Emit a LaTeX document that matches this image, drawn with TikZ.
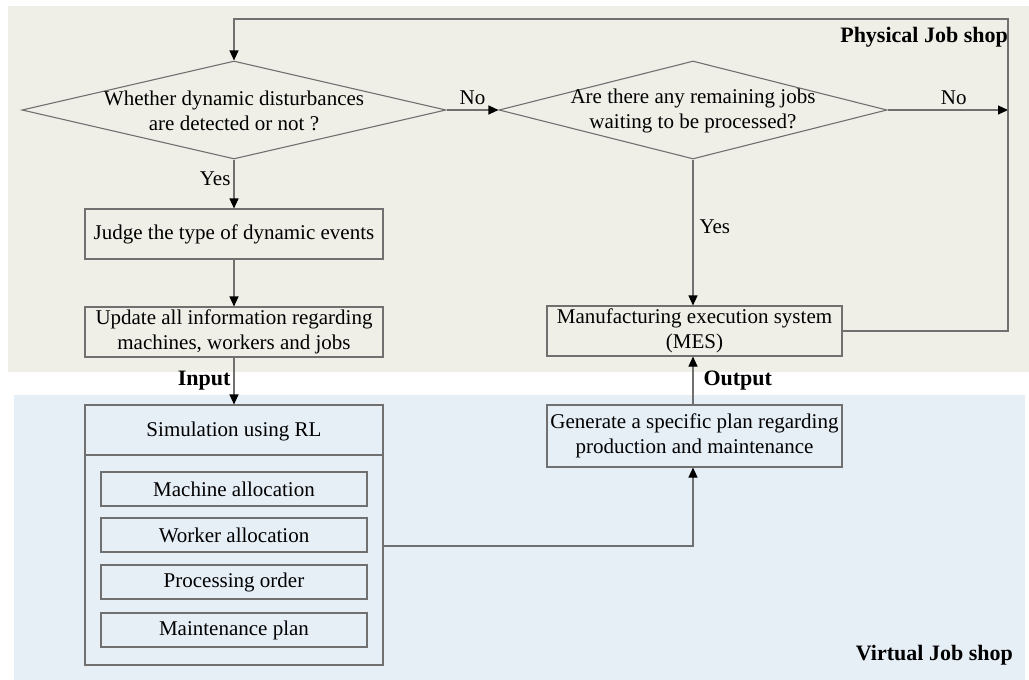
\documentclass[tikz,border=0pt]{standalone}
\usepackage{fontspec}
\setmainfont{Liberation Serif}
\usetikzlibrary{shapes.geometric,arrows.meta}
\definecolor{physbg}{HTML}{EFEFE8}
\definecolor{virtbg}{HTML}{E6EEF6}
\definecolor{ln}{HTML}{707070}
\tikzset{
  boxnode/.style={draw=ln, line width=1.1pt, rectangle, inner sep=0pt, align=center, font=\fontsize{21}{25}\selectfont},
  dia/.style={draw=ln, line width=1.1pt, diamond, inner sep=0pt},
  txt/.style={align=center, inner sep=0pt, font=\fontsize{21}{25}\selectfont},
  lbl/.style={inner sep=0pt, font=\fontsize{21}{25}\selectfont},
  blbl/.style={inner sep=0pt, font=\fontsize{22}{26}\selectfont\bfseries},
  conn/.style={draw=ln, line width=1.1pt},
  arr/.style={conn, -{Triangle[length=10pt,width=9pt,fill=black,color=black]}},
}
\begin{document}
\begin{tikzpicture}[x=1pt,y=-1pt]
\useasboundingbox (0,0) rectangle (1029,680);
\fill[white] (0,0) rectangle (1029,680);
% backgrounds
\fill[physbg] (8,6) rectangle (1029,372);
\fill[virtbg] (14,395) rectangle (1025,680);
\node[blbl, anchor=east] (phys) at (1008,37) {Physical Job shop};
\node[blbl, anchor=east] (virt) at (1013,655) {Virtual Job shop};

% diamonds
\node[dia, minimum width=424pt, minimum height=98pt] (d1) at (234,110) {};
\node[txt] (d1t) at (234,111) {Whether dynamic disturbances\\are detected or not ?};
\node[dia, minimum width=388pt, minimum height=98pt] (d2) at (693,110) {};
\node[txt] (d2t) at (693,111) {Are there any remaining jobs\\waiting to be processed?};

% left column
\node[boxnode, minimum width=298pt, minimum height=50pt] (judge) at (234,234) {Judge the type of dynamic events};
\node[boxnode, minimum width=298pt, minimum height=50pt] (upd) at (234,332) {Update all information regarding\\machines, workers and jobs};

% simulation box
\node[boxnode, minimum width=298pt, minimum height=260pt] (sim) at (234,535) {};
\coordinate (sepL) at (85,455);
\coordinate (sepR) at (383,455);
\draw[conn] (sepL) -- (sepR);
\node[txt] (simt) at (234,431) {Simulation using RL};
\node[boxnode, minimum width=266pt, minimum height=34pt] (m1) at (234,489) {Machine allocation};
\node[boxnode, minimum width=266pt, minimum height=34pt] (m2) at (234,535) {Worker allocation};
\node[boxnode, minimum width=266pt, minimum height=34pt] (m3) at (234,582) {Processing order};
\node[boxnode, minimum width=266pt, minimum height=34pt] (m4) at (234,630) {Maintenance plan};

% right column
\node[boxnode, minimum width=295pt, minimum height=50pt] (mes) at (694.5,331) {Manufacturing execution system\\(MES)};
\node[boxnode, minimum width=295pt, minimum height=62pt] (gen) at (694.5,436) {Generate a specific plan regarding\\production and maintenance};

% coordinates for loop
\coordinate (rt) at (1008,19);
\coordinate (rm) at (1008,110);
\coordinate (lt) at (234,19);
\coordinate (mesr) at (1008,331);
\coordinate (simr) at (693,546);

% connectors
\draw[arr] (d1.east) -- node[lbl, above=5pt] (no1) {No} (d2.west);
\draw[arr] (d2.east) -- node[lbl, above=5pt, pos=0.55] (no2) {No} (rm);
\draw[arr] (d1.south) -- node[lbl, left=3pt, pos=0.4] (yes1) {Yes} (judge.north);
\draw[arr] (judge.south) -- (upd.north);
\draw[arr] (upd.south) -- node[blbl, left=3pt, pos=0.5] (inp) {Input} (sim.north);
\draw[arr] (d2.south) -- node[lbl, right=6pt, pos=0.46] (yes2) {Yes} (mes.north -| d2.south);
\draw[arr] (gen.north -| d2.south) -- node[blbl, right=10pt, pos=0.5] (outp) {Output} (mes.south -| d2.south);
\draw[arr] (sim.east |- simr) -- (simr) -- (gen.south -| d2.south);
\draw[arr] (mes.east) -- (mesr) -- (rt) -- (lt) -- (d1.north);
\end{tikzpicture}
\end{document}
